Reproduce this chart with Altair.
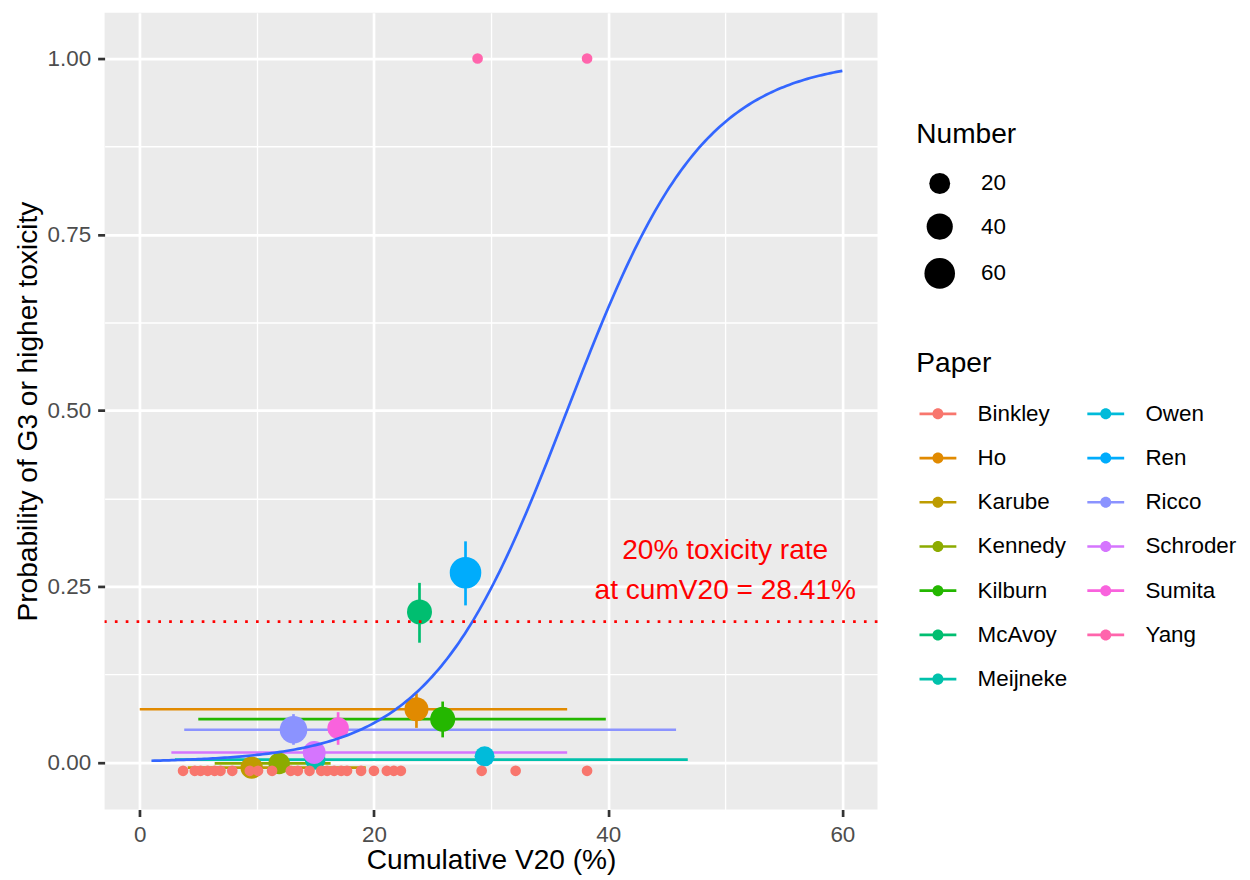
import altair as alt
import pandas as pd

# ---------------- data ----------------
# per-paper summary (mean cumulative V20, G3+ toxicity rate, number of patients)
paper = ["Ho", "Karube", "Kennedy", "Kilburn", "McAvoy", "Meijneke",
         "Owen", "Ren", "Ricco", "Schroder", "Sumita"]
mean_v20 = [23.63, 9.56, 11.91, 25.87, 23.89, 14.98, 29.45, 27.82, 13.13, 14.90, 16.94]
tox_rate = [0.0755, -0.0075, -0.0015, 0.0614, 0.2138, 0.0040, 0.0086, 0.2694, 0.0463, 0.0140, 0.0487]
number = [31, 25, 22, 35, 35, 19, 17, 65, 46, 27, 22]

# V20 ranges (horizontal bars)
range_paper = ["Ho", "Karube", "Kennedy", "Kilburn", "Meijneke", "Ricco", "Schroder"]
range_lo = [0.0, 4.1, 6.4, 5.0, 3.0, 3.8, 2.7]
range_hi = [36.5, 19.3, 16.3, 39.8, 46.8, 45.8, 36.5]

# toxicity-rate intervals (vertical bars)
ci_paper = ["Ho", "Kilburn", "McAvoy", "Ren", "Ricco", "Sumita"]
ci_lo = [0.049, 0.0355, 0.170, 0.223, 0.025, 0.025]
ci_hi = [0.098, 0.0864, 0.255, 0.314, 0.0685, 0.0713]

# individual patients
binkley_v20 = [3.7, 4.7, 5.2, 5.8, 6.4, 6.9, 7.9, 9.4, 10.1, 11.3, 12.9, 13.5, 14.5,
               15.5, 16.0, 16.6, 17.2, 17.7, 18.9, 20.0, 21.1, 21.7, 22.3, 29.2, 32.1, 38.2]
binkley_y = -0.012
yang_v20 = [28.85, 38.2]
yang_y = 1.0

# fitted logistic model
fit_intercept = -6.253
fit_slope = 0.1713
curve_from, curve_to = 1, 60

threshold = 0.2
annot_x, annot_y = 50, 0.3
annot_text = "20% toxicity rate\nat cumV20 = 28.41%"

legend_order = ["Binkley", "Ho", "Karube", "Kennedy", "Kilburn", "McAvoy", "Meijneke",
                "Owen", "Ren", "Ricco", "Schroder", "Sumita", "Yang"]
hue = {"Binkley": "#F8766D", "Ho": "#E18A00", "Karube": "#BE9C00", "Kennedy": "#8CAB00",
       "Kilburn": "#24B700", "McAvoy": "#00BE70", "Meijneke": "#00C1AB", "Owen": "#00BBDA",
       "Ren": "#00ACFC", "Ricco": "#8B93FF", "Schroder": "#D575FE", "Sumita": "#F962DD",
       "Yang": "#FF65AC"}

# ---------------- tables ----------------
summary = pd.DataFrame({"Paper": paper, "V20": mean_v20, "Rate": tox_rate, "Number": number})
rate_of = dict(zip(paper, tox_rate))
v20_of = dict(zip(paper, mean_v20))
hbars = pd.DataFrame({"Paper": range_paper, "lo": range_lo, "hi": range_hi,
                      "Rate": [rate_of[p] for p in range_paper]})
vbars = pd.DataFrame({"Paper": ci_paper, "V20": [v20_of[p] for p in ci_paper],
                      "lo": ci_lo, "hi": ci_hi})
indiv = pd.DataFrame({
    "Paper": ["Binkley"] * len(binkley_v20) + ["Yang"] * len(yang_v20),
    "V20": binkley_v20 + yang_v20,
    "Rate": [binkley_y] * len(binkley_v20) + [yang_y] * len(yang_v20),
})
hline = pd.DataFrame({"y": [threshold]})
annot = pd.DataFrame({"x": [annot_x], "y": [annot_y], "label": [annot_text]})

FONT = "Liberation Sans"
LW = 2.7

xs = alt.Scale(domain=[-3, 63], nice=False, zero=False)
ys = alt.Scale(domain=[-0.067, 1.065], nice=False, zero=False)

x_minor = "datum.value % 20 != 0"
y_minor = "(datum.value * 8) % 2 != 0"
x_axis = alt.Axis(
    title="Cumulative V20 (%)", values=[0, 10, 20, 30, 40, 50, 60],
    labelExpr="datum.value % 20 == 0 ? datum.label : ''",
    gridWidth={"condition": {"test": x_minor, "value": 1.35}, "value": LW},
    tickColor={"condition": {"test": x_minor, "value": "transparent"}, "value": "#333333"},
    titlePadding=1,
)
y_axis = alt.Axis(
    title="Probability of G3 or higher toxicity",
    values=[0, 0.125, 0.25, 0.375, 0.5, 0.625, 0.75, 0.875, 1.0], format=".2f",
    labelExpr="(datum.value * 8) % 2 == 0 ? datum.label : ''",
    gridWidth={"condition": {"test": y_minor, "value": 1.35}, "value": LW},
    tickColor={"condition": {"test": y_minor, "value": "transparent"}, "value": "#333333"},
    titlePadding=5,
)

def X(f):
    return alt.X(f, type="quantitative", scale=xs, axis=x_axis)

def Y(f):
    return alt.Y(f, type="quantitative", scale=ys, axis=y_axis)

key_path = ("M-1,-0.073L1,-0.073L1,0.073L-1,0.073Z "
            "M-0.3,0A0.3,0.3,0,1,1,0.3,0A0.3,0.3,0,1,1,-0.3,0Z")

color_legend = alt.Legend(
    title="Paper", orient="none", legendX=815, legendY=339, columns=2,
    symbolType=key_path, symbolSize=1369, symbolStrokeWidth=0, symbolOpacity=1,
    symbolOffset=3.2, labelOffset=21.3, columnPadding=16.5, rowPadding=14.4,
    titlePadding=17, padding=0,
    titleFont=FONT, titleFontSize=28.2, titleFontWeight="normal", titleColor="black",
    labelFont=FONT, labelFontSize=22.5, labelColor="black",
)
color_enc = alt.Color("Paper:N",
                      scale=alt.Scale(domain=legend_order, range=[hue[p] for p in legend_order]),
                      legend=color_legend)

size_legend = alt.Legend(
    title="Number", orient="none", legendX=815, legendY=109, values=[20, 40, 60],
    symbolType="circle", symbolFillColor="black", symbolStrokeWidth=0, symbolOpacity=1,
    symbolOffset=8, labelOffset=26, rowPadding=18, titlePadding=23, padding=0,
    titleFont=FONT, titleFontSize=28.2, titleFontWeight="normal", titleColor="black",
    labelFont=FONT, labelFontSize=22.5, labelColor="black",
)

h_layer = alt.Chart(hbars).mark_rule(strokeWidth=LW).encode(
    x=X("lo"), x2="hi", y=Y("Rate"), color=color_enc)
v_layer = alt.Chart(vbars).mark_rule(strokeWidth=LW).encode(
    x=X("V20"), y=Y("lo"), y2="hi", color=color_enc)
pt_layer = alt.Chart(summary).mark_circle(opacity=1, color="black").encode(
    x=X("V20"), y=Y("Rate"), color=color_enc,
    size=alt.Size("Number:Q", scale=alt.Scale(domain=[20, 60], range=[441, 942], zero=False),
                  legend=size_legend))
ind_layer = alt.Chart(indiv).mark_circle(opacity=1, size=115).encode(
    x=X("V20"), y=Y("Rate"), color=color_enc)
curve_layer = alt.Chart(alt.sequence(curve_from, curve_to + 0.001, 0.25, as_="cv")).transform_calculate(
    p=f"1/(1+exp(-({fit_intercept} + {fit_slope}*datum.cv)))"
).mark_line(color="#3366FF", strokeWidth=LW).encode(x=X("cv"), y=Y("p"))
hline_layer = alt.Chart(hline).mark_rule(color="red", strokeWidth=LW, strokeDash=[2.7, 8.2]).encode(
    y=Y("y"))
text_layer = alt.Chart(annot).mark_text(
    color="red", font=FONT, fontSize=28.2, align="center", baseline="middle",
    lineBreak="\n", lineHeight=40).encode(x=X("x"), y=Y("y"), text="label")

chart = alt.layer(h_layer, v_layer, pt_layer, ind_layer, curve_layer, hline_layer, text_layer).properties(
    width=776, height=800,
    padding={"left": 5, "top": 3, "right": 5, "bottom": 5},
).configure_view(
    fill="#EBEBEB", strokeWidth=0
).configure_axis(
    domain=False, grid=True, gridColor="white",
    tickSize=7, tickWidth=LW,
    labelColor="#4D4D4D", labelFont=FONT, labelFontSize=22.5, labelPadding=7,
    titleColor="black", titleFont=FONT, titleFontSize=28.2, titleFontWeight="normal",
)

chart.save("out.html", embed_options={"renderer": "svg", "actions": False})
